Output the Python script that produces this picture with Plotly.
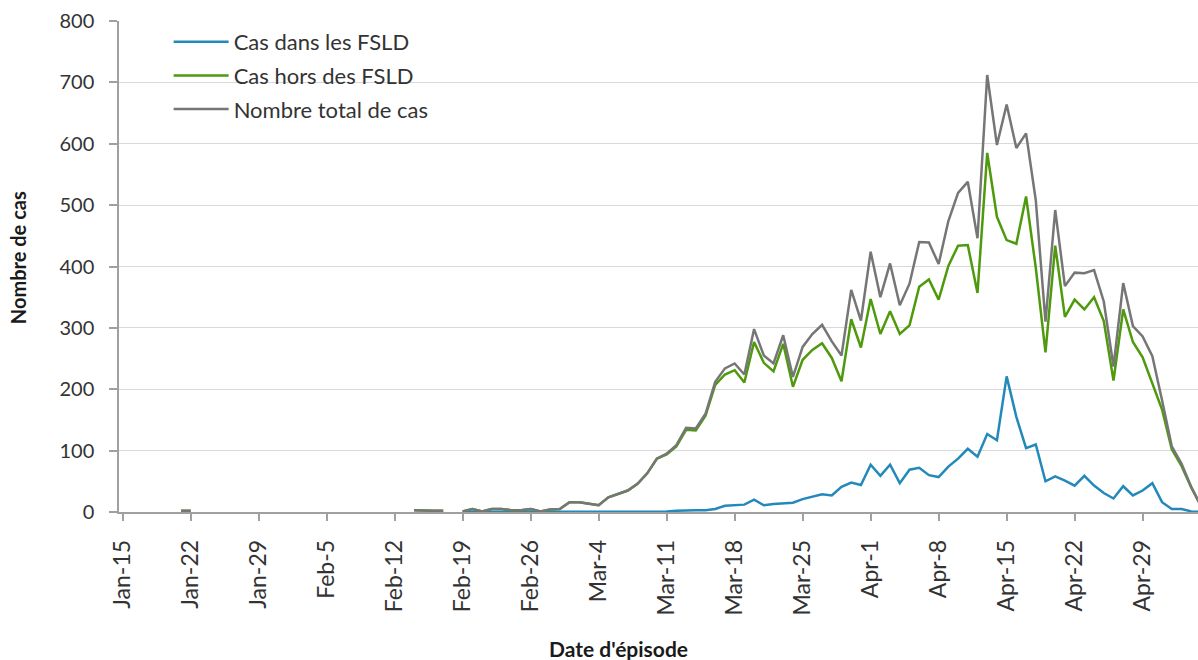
import pandas as pd
import plotly.graph_objects as go

# Daily values from 2020-01-21 to 2020-05-05 (None = no data for that day)
start_date = "2020-01-21"
gap22 = [None] * 22

cas_total = [2, 2] + gap22 + [3, 2, 2, 2, None,
    1, 5, 1, 5, 5, 3, 3, 5, 1, 4, 5,
    16, 16, 13, 11, 24, 29, 35, 46, 63, 87, 95,
    109, 137, 136, 160, 212, 234, 242, 224, 298, 255, 242, 288,
    220, 269, 290, 305, 278, 255, 362, 312, 424, 350, 405,
    337, 372, 440, 439, 404, 474, 520, 538, 446,
    712, 598, 664, 593, 617, 508, 310, 492, 368, 390,
    389, 394, 343, 237, 373, 303, 286, 254, 182, 107, 79, 41, 10]

cas_hors = [2, 2] + gap22 + [3, 2, 2, 2, None,
    1, 5, 1, 5, 5, 3, 3, 5, 1, 4, 5,
    16, 16, 13, 11, 24, 29, 35, 46, 63, 87, 94,
    107, 134, 133, 157, 207, 224, 231, 211, 277, 243, 229, 274,
    204, 248, 264, 275, 251, 213, 314, 268, 347, 290, 327,
    290, 304, 367, 379, 346, 401, 434, 435, 357,
    585, 481, 443, 437, 514, 398, 260, 434, 318, 346,
    330, 350, 311, 214, 330, 277, 252, 209, 167, 102, 75, 40, 10]

cas_fsld = [None, None] + gap22 + [None, None, None, None, None,
    0, 0, 0, 0, 0, 0, 0, 0, 0, 0, 0,
    0, 0, 0, 0, 0, 0, 0, 0, 0, 0, 1,
    2, 3, 3, 3, 5, 10, 11, 12, 20, 11, 13, 14,
    15, 21, 25, 29, 27, 41, 48, 44, 77, 59, 77,
    47, 69, 72, 60, 57, 74, 87, 103, 90,
    127, 117, 221, 155, 104, 110, 50, 58, 51, 43,
    59, 43, 31, 22, 42, 27, 35, 47, 16, 5, 5, 1, 0]

tick_dates = ["2020-01-15", "2020-01-22", "2020-01-29", "2020-02-05", "2020-02-12",
              "2020-02-19", "2020-02-26", "2020-03-04", "2020-03-11", "2020-03-18",
              "2020-03-25", "2020-04-01", "2020-04-08", "2020-04-15", "2020-04-22",
              "2020-04-29"]
tick_labels = ["Jan-15", "Jan-22", "Jan-29", "Feb-5", "Feb-12", "Feb-19", "Feb-26",
               "Mar-4", "Mar-11", "Mar-18", "Mar-25", "Apr-1", "Apr-8", "Apr-15",
               "Apr-22", "Apr-29"]

dates = pd.date_range(start_date, periods=len(cas_total), freq="D")

FONT = "Lato"
TXT = "#333333"
series = [
    ("Cas dans les FSLD", cas_fsld, "#2389BA"),
    ("Cas hors des FSLD", cas_hors, "#4E9A0C"),
    ("Nombre total de cas", cas_total, "#767676"),
]

fig = go.Figure()
for name, vals, col in series:
    fig.add_trace(go.Scatter(
        x=dates, y=vals, mode="lines", name=name, legendgroup=name,
        line=dict(color=col, width=2.5), connectgaps=False,
    ))

fig.update_layout(
    width=1198, height=660,
    margin=dict(l=119, r=0, t=21, b=148, autoexpand=False),
    paper_bgcolor="white", plot_bgcolor="white",
    font=dict(family=FONT, size=20, color=TXT),
    showlegend=True,
    legend=dict(
        x=0.046, y=1.0, xanchor="left", yanchor="top",
        bgcolor="rgba(255,255,255,0)", font=dict(family=FONT, size=22, color=TXT),
        traceorder="grouped", tracegroupgap=2, itemwidth=55,
    ),
    xaxis=dict(
        type="date", automargin=False,
        range=["2020-01-14 14:53", "2020-05-04 16:48"],
        tickvals=tick_dates, ticktext=tick_labels, tickangle=-90,
        showgrid=False, showline=True, linecolor="#A0A0A0", linewidth=1.5,
        ticks="outside", ticklen=7, tickcolor="#A0A0A0", tickwidth=1.5,
        ticklabelstandoff=10,
        tickfont=dict(family=FONT, size=23, color=TXT),
        zeroline=False,
    ),
    yaxis=dict(
        range=[0, 800], dtick=100, tick0=0, automargin=False,
        showgrid=True, gridcolor="#D9D9D9", gridwidth=1.2,
        showline=True, linecolor="#A0A0A0", linewidth=1.5,
        ticks="outside", ticklen=8, tickcolor="#A0A0A0", tickwidth=1.5,
        ticklabelstandoff=11,
        tickfont=dict(family=FONT, size=20, color=TXT),
        zeroline=False,
    ),
    annotations=[
        dict(text="<b>Nombre de cas</b>", xref="paper", yref="paper",
             x=-0.0936, y=0.517, xanchor="center", yanchor="middle",
             textangle=-90, showarrow=False,
             font=dict(family=FONT, size=20, color="#1a1a1a")),
        dict(text="<b>Date d'épisode</b>", xref="paper", yref="paper",
             x=0.4625, y=-0.277, xanchor="center", yanchor="middle",
             showarrow=False,
             font=dict(family=FONT, size=21, color="#1a1a1a")),
    ],
)

fig.write_html("out.html", config={"displayModeBar": False},
               post_script="document.body.style.margin='0';document.body.style.overflow='hidden';")
